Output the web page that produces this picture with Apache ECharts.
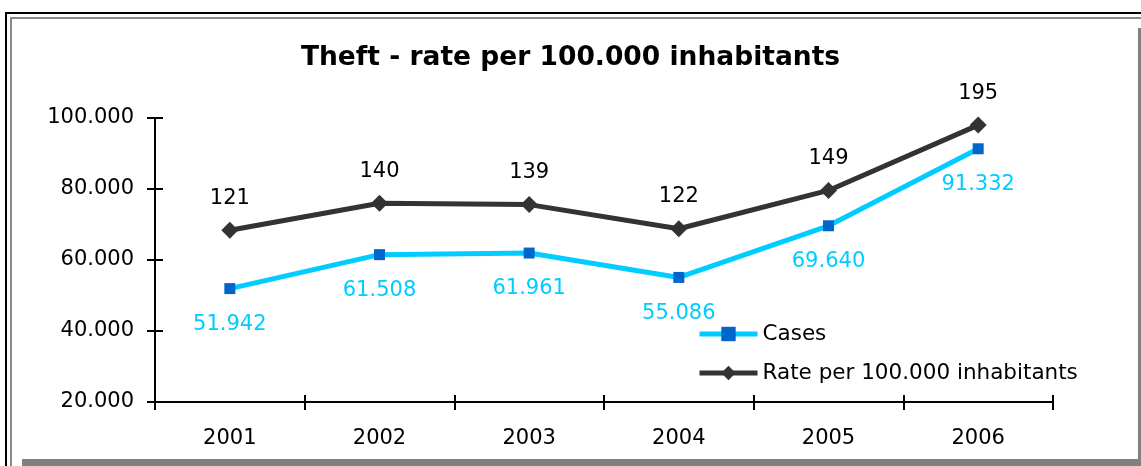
<!DOCTYPE html>
<html>
<head>
<meta charset="utf-8">
<script src="https://cdn.jsdelivr.net/npm/echarts@6/dist/echarts.min.js"></script>
<style>
html,body{margin:0;padding:0;background:#fff;}
#c{width:1141px;height:466px;}
</style>
</head>
<body>
<div id="c"></div>
<script>
const titleText = 'Theft - rate per 100.000 inhabitants';
const years = ['2001', '2002', '2003', '2004', '2005', '2006'];
const cases = [51942, 61508, 61961, 55086, 69640, 91332];
const rate = [121, 140, 139, 122, 149, 195];
const leftTicks = { min: 20000, max: 100000, interval: 20000 };
const rightTicks = { min: 0, max: 200 };

const FONT = 'DejaVu Sans';
function fmt(v) {
  return String(Math.round(v)).replace(/\B(?=(\d{3})+(?!\d))/g, '.');
}

const chart = echarts.init(document.getElementById('c'), null, { renderer: 'canvas' });
const grid = { left: 155, right: 88, top: 118, bottom: 64 };

chart.setOption({
  animation: false,
  backgroundColor: '#fff',
  textStyle: { fontFamily: FONT },
  title: {
    text: titleText,
    left: 'center',
    top: 40,
    textStyle: { fontFamily: FONT, fontWeight: 'bold', fontSize: 26.5, color: '#000' }
  },
  legend: {
    orient: 'vertical',
    left: 692,
    top: 318,
    itemWidth: 58,
    itemHeight: 18,
    itemGap: 17,
    lineStyle: { width: 5 },
    textStyle: { fontFamily: FONT, fontSize: 21.5, color: '#000' },
    data: ['Cases', 'Rate per 100.000 inhabitants']
  },
  grid: grid,
  xAxis: [
    {
      type: 'category',
      data: years,
      position: 'bottom',
      boundaryGap: true,
      axisLine: { show: true, lineStyle: { color: '#000', width: 2 } },
      axisTick: { show: true, interval: 0, inside: false, length: 8, lineStyle: { color: '#000', width: 2 } },
      axisLabel: { fontFamily: FONT, fontSize: 21, color: '#000', margin: 26 },
      splitLine: { show: false }
    },
    {
      type: 'category',
      data: years,
      position: 'bottom',
      offset: 0,
      boundaryGap: true,
      axisLine: { show: false },
      axisTick: { show: true, interval: 0, inside: true, length: 7, lineStyle: { color: '#000', width: 2 } },
      axisLabel: { show: false },
      splitLine: { show: false }
    }
  ],
  yAxis: [
    {
      type: 'value',
      position: 'left',
      min: leftTicks.min,
      max: leftTicks.max,
      interval: leftTicks.interval,
      axisLine: { show: true, lineStyle: { color: '#000', width: 2 } },
      axisTick: { show: true, length: 8, lineStyle: { color: '#000', width: 2 } },
      axisLabel: { fontFamily: FONT, fontSize: 21, color: '#000', margin: 21, formatter: fmt },
      splitLine: { show: false }
    },
    {
      type: 'value',
      position: 'right',
      min: rightTicks.min,
      max: rightTicks.max,
      show: false,
      splitLine: { show: false }
    },
    {
      type: 'value',
      position: 'left',
      offset: 0,
      min: leftTicks.min,
      max: leftTicks.max,
      interval: leftTicks.interval,
      axisLine: { show: false },
      axisTick: { show: true, inside: true, length: 8, lineStyle: { color: '#000', width: 2 } },
      axisLabel: { show: false },
      splitLine: { show: false }
    }
  ],
  series: [
    {
      name: 'Cases',
      type: 'line',
      data: cases,
      yAxisIndex: 0,
      symbol: 'rect',
      symbolSize: 11,
      lineStyle: { color: '#00CCFF', width: 5 },
      itemStyle: { color: '#0066CC' },
      label: {
        show: true,
        position: 'bottom',
        distance: 20,
        fontFamily: FONT,
        fontSize: 21,
        color: '#00CCFF',
        formatter: p => fmt(p.value)
      },
      z: 3
    },
    {
      name: 'Rate per 100.000 inhabitants',
      type: 'line',
      data: rate,
      yAxisIndex: 1,
      symbol: 'diamond',
      symbolSize: 17,
      lineStyle: { color: '#333333', width: 5 },
      itemStyle: { color: '#333333' },
      label: {
        show: true,
        position: 'top',
        distance: 13,
        fontFamily: FONT,
        fontSize: 21,
        color: '#000'
      },
      z: 4
    }
  ],
  graphic: [
    { type: 'rect', shape: { x: 5, y: 12, width: 1200, height: 2 }, style: { fill: '#000' }, silent: true },
    { type: 'rect', shape: { x: 10, y: 17, width: 1200, height: 2 }, style: { fill: '#888' }, silent: true },
    { type: 'rect', shape: { x: 5, y: 12, width: 2, height: 460 }, style: { fill: '#000' }, silent: true },
    { type: 'rect', shape: { x: 10, y: 17, width: 2, height: 460 }, style: { fill: '#888' }, silent: true },
    { type: 'rect', shape: { x: 1138, y: 28, width: 3, height: 440 }, style: { fill: '#808080' }, silent: true },
    { type: 'rect', shape: { x: 22, y: 459, width: 1130, height: 8 }, style: { fill: '#808080' }, silent: true }
  ]
});
</script>
</body>
</html>
